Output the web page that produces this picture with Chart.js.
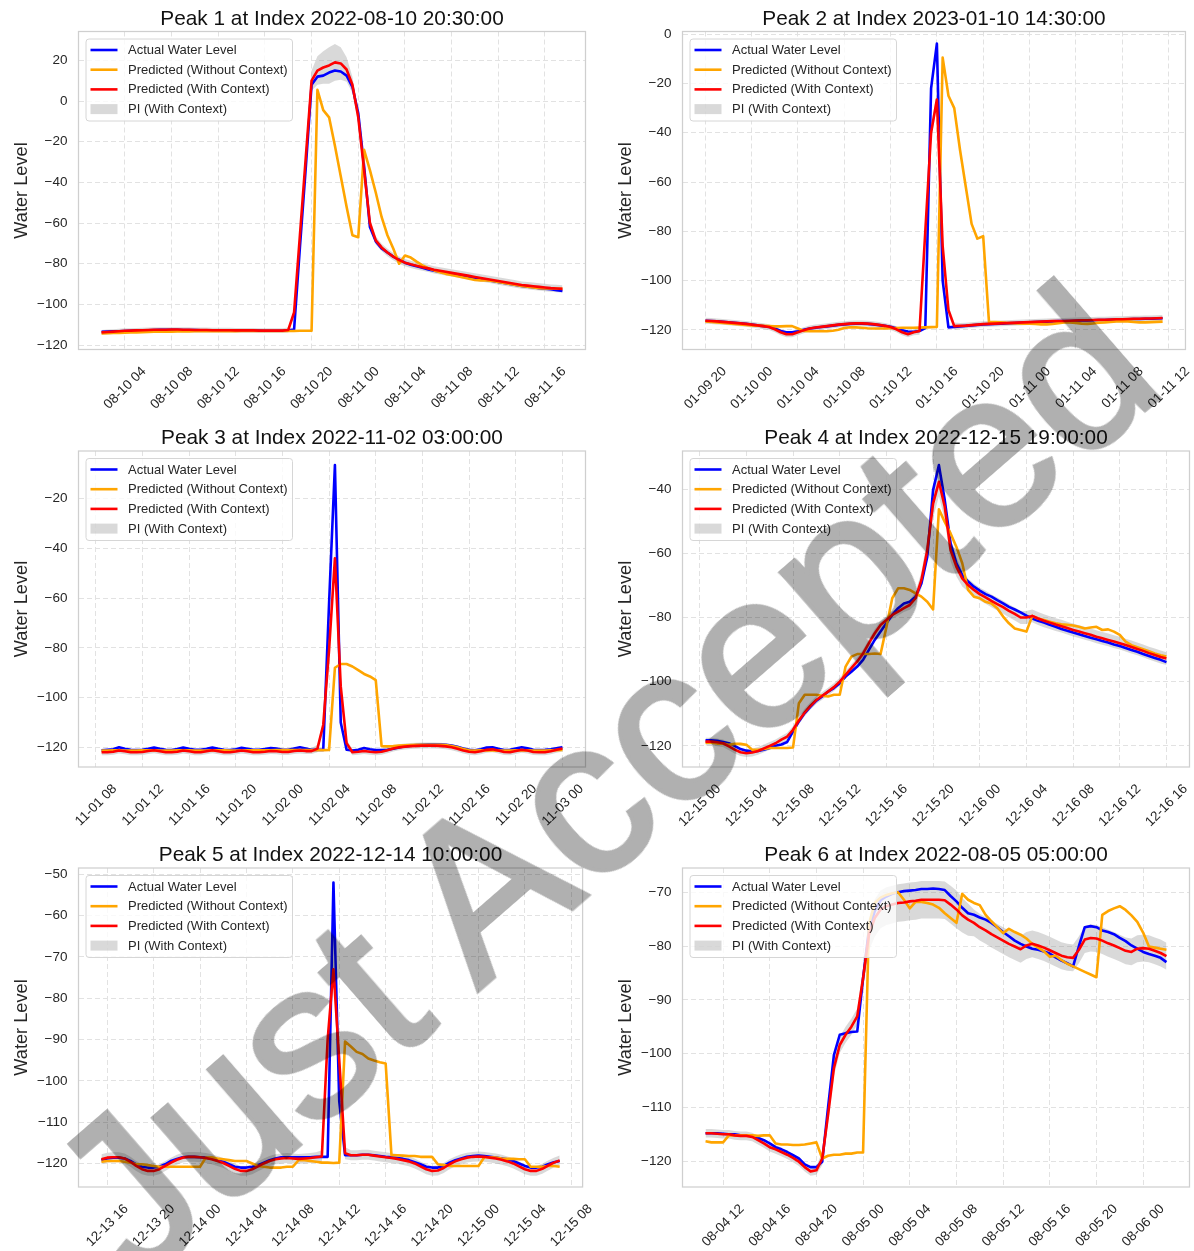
<!DOCTYPE html>
<html>
<head>
<meta charset="utf-8">
<script src="https://cdn.jsdelivr.net/npm/chart.js@4.4.0/dist/chart.umd.min.js"></script>
<style>
html,body{margin:0;padding:0;background:#fff;}
#page{position:relative;width:1194px;height:1251px;overflow:hidden;background:#fff;isolation:isolate;}
#wm{position:absolute;left:603px;top:781px;transform:translate(-50%,-50%) rotate(-41deg);
font-family:"Liberation Sans",Arial,sans-serif;font-size:220px;line-height:1;color:#b0b0b0;
-webkit-text-stroke:4px #b0b0b0;mix-blend-mode:multiply;
white-space:nowrap;pointer-events:none;z-index:10;}
</style>
</head>
<body>
<div id="page"><div id="wm">Just Accepted</div></div>
<script>
// ---------------- DATA ----------------
const STEP_HOURS = 0.5;
const SERIES_LABELS = ['Actual Water Level','Predicted (Without Context)','Predicted (With Context)','PI (With Context)'];
const Y_LABEL = 'Water Level';

// Panel 1
const p1Title = 'Peak 1 at Index 2022-08-10 20:30:00';
const p1Start = '2022-08-10T02:00';
const p1XLabels = ['08-10 04','08-10 08','08-10 12','08-10 16','08-10 20','08-11 00','08-11 04','08-11 08','08-11 12','08-11 16'];
const p1YTicks = [-120,-100,-80,-60,-40,-20,0,20];
const p1YRange = [-122.2, 34.2];
const p1Actual = [-113.5,-113.4,-113.3,-113.2,-113.1,-113.0,-112.9,-112.8,-112.7,-112.6,
 -112.5,-112.5,-112.5,-112.5,-112.6,-112.6,-112.6,-112.7,-112.7,-112.7,
 -112.8,-112.8,-112.8,-112.8,-112.9,-112.9,-112.9,-112.9,-113.0,-113.0,
 -113.0,-113.0,-112.8,-112.4,-72,-33,8,12,12.5,14,
 15,14.5,12.5,7,-6,-32,-62,-69,-72.5,-74.5,
 -76.5,-78,-79.5,-80.5,-81.3,-82,-82.8,-83.4,-84,-84.5,
 -85,-85.5,-86,-86.5,-87,-87.5,-88,-88.5,-89,-89.5,
 -90,-90.5,-91,-91.3,-91.6,-92,-92.3,-92.6,-93,-93.4];
const p1NoCtx = [-114.3,-114.2,-114.1,-114.0,-113.9,-113.8,-113.8,-113.7,-113.6,-113.5,
 -113.5,-113.4,-113.4,-113.3,-113.3,-113.3,-113.2,-113.2,-113.2,-113.2,
 -113.2,-113.2,-113.2,-113.2,-113.1,-113.1,-113.1,-113.1,-113.1,-113.1,
 -113.1,-113.1,-113.1,-113.1,-113.0,-113.0,-113.0,5.5,-4.5,-8,
 -22,-37,-52,-66,-67,-24,-34,-45,-57,-66,
 -72.5,-80,-76,-77,-79,-80.8,-82.2,-83.3,-84.2,-85,
 -85.6,-86.2,-86.8,-87.4,-88,-88.2,-88.3,-88.5,-89,-89.5,
 -90,-90.5,-91,-91.3,-91.7,-92,-92.2,-92.2,-92.2,-92.3];
const p1WithCtx = [-113.8,-113.6,-113.4,-113.2,-113.0,-112.9,-112.8,-112.7,-112.6,-112.5,
 -112.5,-112.5,-112.4,-112.4,-112.5,-112.5,-112.6,-112.6,-112.6,-112.7,
 -112.7,-112.7,-112.7,-112.8,-112.8,-112.8,-112.8,-112.9,-112.9,-112.9,
 -112.9,-112.9,-112.6,-104,-66,-28,10,15,16.5,17.5,
 19,18.5,15.5,8,-8,-34,-60,-68.5,-72,-74.5,
 -76.5,-78.2,-79.5,-80.3,-81,-81.7,-82.3,-83,-83.5,-84,
 -84.5,-85,-85.5,-86,-86.5,-87,-87.5,-88,-88.5,-89,
 -89.5,-90,-90.5,-90.8,-91.1,-91.4,-91.7,-92,-92.2,-92.4];
const p1PiHalf = [1.2,1.2,1.2,1.2,1.2,1.2,1.2,1.2,1.2,1.2,
 1.2,1.2,1.2,1.2,1.2,1.2,1.2,1.2,1.2,1.2,
 1.2,1.2,1.2,1.2,1.2,1.2,1.2,1.2,1.2,1.2,
 1.2,1.2,1.2,1.5,2,3,5,7,8,9,
 9,8,6,4,3,2.5,2,2,1.8,1.8,
 1.8,1.8,1.8,1.8,1.8,1.8,1.8,1.8,1.8,1.8,
 1.8,1.8,1.8,1.8,1.8,1.8,1.8,1.8,1.8,1.8,
 1.8,1.8,1.8,1.8,1.8,1.8,1.8,1.8,1.8,1.8];

// Panel 2
const p2Title = 'Peak 2 at Index 2023-01-10 14:30:00';
const p2Start = '2023-01-09T20:00';
const p2XLabels = ['01-09 20','01-10 00','01-10 04','01-10 08','01-10 12','01-10 16','01-10 20','01-11 00','01-11 04','01-11 08','01-11 12'];
const p2YTicks = [-120,-100,-80,-60,-40,-20,0];
const p2YRange = [-128, 1.1];
const p2Actual = [-116.3,-116.4,-116.6,-116.8,-117.0,-117.2,-117.4,-117.6,-117.9,-118.2,
 -118.5,-118.8,-119.5,-120.5,-121.0,-121.0,-120.6,-120.0,-119.5,-119.2,
 -118.9,-118.6,-118.3,-118.0,-117.8,-117.6,-117.5,-117.5,-117.6,-117.8,
 -118.1,-118.4,-118.8,-119.4,-120.2,-120.7,-120.8,-120.5,-119.3,-22,
 -3.8,-100,-119,-118.8,-118.6,-118.4,-118.2,-118.0,-117.8,-117.7,
 -117.6,-117.5,-117.4,-117.3,-117.2,-117.1,-117.0,-116.9,-116.8,-116.7,
 -116.6,-116.5,-116.5,-116.4,-116.3,-116.2,-116.2,-116.1,-116.0,-116.0,
 -115.9,-115.8,-115.8,-115.7,-115.6,-115.6,-115.5,-115.5,-115.4,-115.3];
const p2NoCtx = [-116.6,-116.8,-117.0,-117.2,-117.4,-117.6,-117.8,-118.0,-118.2,-118.3,
 -118.4,-118.5,-118.6,-118.6,-118.5,-118.5,-119.5,-120.5,-120.6,-120.6,
 -120.6,-120.6,-120.4,-120.0,-119.3,-119.0,-119.0,-119.2,-119.4,-119.5,
 -119.5,-119.5,-119.4,-119.3,-119.2,-119.2,-119.2,-119.1,-119.0,-118.9,
 -118.8,-9.5,-25,-30,-47,-62,-77,-83,-82,-116.8,
 -116.9,-117.0,-117.2,-117.3,-117.4,-117.5,-117.5,-117.6,-117.8,-117.8,
 -117.6,-117.3,-117.0,-117.0,-117.2,-117.5,-117.6,-117.4,-117.1,-117.0,
 -116.8,-116.6,-116.5,-116.6,-116.8,-117.0,-117.0,-116.9,-116.8,-116.7];
const p2WithCtx = [-116.3,-116.4,-116.6,-116.8,-117.0,-117.2,-117.4,-117.6,-117.9,-118.2,
 -118.5,-118.9,-119.8,-121.0,-121.8,-121.8,-121.0,-120.2,-119.5,-119.1,
 -118.8,-118.5,-118.2,-117.9,-117.7,-117.5,-117.4,-117.4,-117.5,-117.7,
 -118.0,-118.4,-118.9,-119.8,-121.0,-121.8,-121.0,-120.5,-80,-40,
 -26.5,-86,-112,-118.5,-118.4,-118.3,-118.1,-117.9,-117.7,-117.6,
 -117.5,-117.4,-117.3,-117.2,-117.1,-117.0,-116.9,-116.8,-116.7,-116.6,
 -116.5,-116.4,-116.4,-116.3,-116.2,-116.1,-116.1,-116.0,-115.9,-115.9,
 -115.8,-115.7,-115.7,-115.6,-115.5,-115.5,-115.4,-115.4,-115.3,-115.2];
const p2PiHalf = [1.2,1.2,1.2,1.2,1.2,1.2,1.2,1.2,1.2,1.2,
 1.2,1.2,1.2,1.2,1.2,1.2,1.2,1.2,1.2,1.2,
 1.2,1.2,1.2,1.2,1.2,1.2,1.2,1.2,1.2,1.2,
 1.2,1.2,1.2,1.2,1.2,1.2,1.2,1.5,2,3,
 3,3,2,1.5,1.2,1.2,1.2,1.2,1.2,1.2,
 1.2,1.2,1.2,1.2,1.2,1.2,1.2,1.2,1.2,1.2,
 1.2,1.2,1.2,1.2,1.2,1.2,1.2,1.2,1.2,1.2,
 1.2,1.2,1.2,1.2,1.2,1.2,1.2,1.2,1.2,1.2];

// Panel 3
const p3Title = 'Peak 3 at Index 2022-11-02 03:00:00';
const p3Start = '2022-11-01T08:30';
const p3XLabels = ['11-01 08','11-01 12','11-01 16','11-01 20','11-02 00','11-02 04','11-02 08','11-02 12','11-02 16','11-02 20','11-03 00'];
const p3YTicks = [-120,-100,-80,-60,-40,-20];
const p3YRange = [-127.9, -0.9];
const p3Actual = [-121.2,-121.0,-120.8,-120.0,-120.6,-121.0,-121.1,-121.0,-120.6,-120.1,
 -120.6,-121.0,-121.1,-120.7,-120.1,-120.6,-121.0,-121.0,-120.6,-120.1,
 -120.6,-121.0,-121.1,-120.8,-120.2,-120.6,-121.0,-121.0,-120.7,-120.3,
 -120.5,-121.0,-121.0,-120.5,-120.0,-120.5,-121.0,-121.0,-121.0,-62,
 -6.5,-110,-121.0,-121.3,-121.0,-120.3,-120.8,-121.1,-121.1,-121.0,
 -120.6,-120.1,-119.6,-119.3,-119.1,-119.0,-118.9,-118.9,-118.9,-119.0,
 -119.3,-119.8,-120.5,-121.0,-121.2,-120.8,-120.1,-120.0,-120.6,-121.1,
 -121.0,-120.5,-120.0,-120.4,-121.0,-121.1,-121.0,-120.8,-120.4,-120.0];
const p3NoCtx = [-121.3,-121.3,-121.2,-121.2,-121.3,-121.3,-121.3,-121.2,-121.2,-121.2,
 -121.3,-121.3,-121.3,-121.2,-121.2,-121.2,-121.3,-121.3,-121.3,-121.2,
 -121.2,-121.2,-121.3,-121.3,-121.3,-121.2,-121.2,-121.2,-121.2,-121.2,
 -121.1,-121.1,-121.1,-121.1,-121.1,-121.1,-121.1,-121.1,-121.1,-121.0,
 -88,-86.5,-86.5,-87.5,-89,-90.5,-91.5,-93,-119.5,-119.6,
 -119.5,-119.3,-119.2,-119.1,-119.0,-119.0,-119.0,-119.0,-119.0,-119.1,
 -119.5,-120.0,-120.7,-121.2,-121.3,-121.2,-121.2,-121.2,-121.3,-121.3,
 -121.3,-121.2,-121.2,-121.2,-121.3,-121.3,-121.3,-121.2,-121.1,-121.0];
const p3WithCtx = [-122.0,-122.0,-121.8,-121.3,-121.6,-122.0,-122.0,-121.9,-121.5,-121.2,
 -121.6,-122.0,-122.0,-121.8,-121.3,-121.6,-122.0,-122.0,-121.6,-121.2,
 -121.6,-122.0,-122.0,-121.7,-121.3,-121.6,-122.0,-122.0,-121.8,-121.5,
 -121.6,-121.9,-121.9,-121.5,-121.3,-121.5,-121.5,-120.5,-111,-80.8,
 -44,-95.5,-118.3,-122.0,-121.8,-121.5,-121.8,-122.0,-121.8,-121.2,
 -120.5,-120.0,-119.7,-119.5,-119.4,-119.3,-119.3,-119.3,-119.4,-119.6,
 -120.0,-120.6,-121.3,-121.8,-122.0,-121.6,-121.0,-120.8,-121.3,-121.9,
 -122.0,-121.5,-121.0,-121.3,-121.9,-122.0,-122.0,-121.6,-121.0,-120.5];
const p3PiHalf = [1.2,1.2,1.2,1.2,1.2,1.2,1.2,1.2,1.2,1.2,
 1.2,1.2,1.2,1.2,1.2,1.2,1.2,1.2,1.2,1.2,
 1.2,1.2,1.2,1.2,1.2,1.2,1.2,1.2,1.2,1.2,
 1.2,1.2,1.2,1.2,1.2,1.2,1.2,1.5,2,3,
 3,2,1.5,1.2,1.2,1.2,1.2,1.2,1.2,1.2,
 1.2,1.2,1.2,1.2,1.2,1.2,1.2,1.2,1.2,1.2,
 1.2,1.2,1.2,1.2,1.2,1.2,1.2,1.2,1.2,1.2,
 1.2,1.2,1.2,1.2,1.2,1.2,1.2,1.2,1.2,1.2];

// Panel 4
const p4Title = 'Peak 4 at Index 2022-12-15 19:00:00';
const p4Start = '2022-12-15T00:30';
const p4XLabels = ['12-15 00','12-15 04','12-15 08','12-15 12','12-15 16','12-15 20','12-16 00','12-16 04','12-16 08','12-16 12','12-16 16'];
const p4YTicks = [-120,-100,-80,-60,-40];
const p4YRange = [-126.6, -28.1];
const p4Actual = [-118.3,-118.3,-118.4,-118.8,-119.2,-120.0,-121.0,-121.5,-121.8,-121.6,
 -121.2,-120.7,-120.0,-119.6,-118.8,-115.5,-112.4,-109.8,-107.8,-105.9,
 -104.6,-103.1,-102.0,-100.5,-98.4,-96.9,-95.3,-93.2,-90.1,-87.0,
 -84.4,-81.8,-79.2,-77.1,-75.6,-75.1,-73.5,-69.4,-61.1,-40.3,
 -32.5,-43.4,-56.9,-63.1,-66.8,-68.8,-70.4,-71.6,-72.7,-73.5,
 -74.6,-75.6,-76.7,-77.5,-78.4,-79.4,-80.3,-81.0,-81.6,-82.3,
 -82.9,-83.6,-84.1,-84.7,-85.2,-85.8,-86.3,-86.8,-87.3,-87.8,
 -88.4,-88.9,-89.5,-90.1,-90.7,-91.4,-92.0,-92.6,-93.2,-93.9];
const p4NoCtx = [-119.0,-119.0,-119.3,-119.3,-119.7,-119.4,-119.4,-119.7,-121.2,-121.2,
 -121.0,-120.7,-120.7,-120.7,-120.7,-120.5,-106.7,-104.1,-104.1,-104.1,
 -104.4,-104.6,-104.1,-104.1,-95.3,-92.2,-91.4,-91.4,-91.4,-91.2,
 -91.4,-83.0,-74.0,-70.9,-70.9,-71.4,-72.5,-73.5,-75.1,-77.5,
 -46.3,-50.2,-53.8,-58.0,-63.1,-71.4,-73.5,-74.0,-75.1,-75.6,
 -77.1,-79.7,-81.8,-83.4,-83.9,-84.4,-79.5,-80.3,-80.8,-81.3,
 -81.8,-82.1,-82.3,-82.5,-82.9,-83.4,-83.1,-82.9,-83.9,-83.7,
 -84.4,-85.4,-87.5,-88.6,-89.3,-89.9,-90.5,-91.2,-91.8,-92.2];
const p4WithCtx = [-118.7,-118.7,-118.9,-119.2,-120.2,-121.2,-122.0,-122.3,-122.1,-121.6,
 -120.8,-120.0,-119.2,-118.1,-117.1,-115.0,-112.1,-109.6,-107.5,-105.7,
 -104.4,-103.1,-101.7,-100.0,-97.9,-95.8,-93.7,-91.2,-88.0,-84.9,
 -82.3,-80.8,-79.2,-78.2,-77.1,-76.1,-74.0,-68.3,-59.0,-44.5,
 -37.7,-45.5,-59.0,-64.2,-67.8,-69.9,-71.4,-72.7,-73.7,-74.8,
 -75.8,-76.8,-77.9,-78.9,-80.0,-80.0,-79.5,-80.3,-81.0,-81.6,
 -82.2,-82.7,-83.3,-83.9,-84.4,-84.9,-85.4,-86.0,-86.5,-87.0,
 -87.5,-88.0,-88.6,-89.2,-89.8,-90.4,-91.1,-91.7,-92.3,-92.8];
const p4PiHalf = [1.2,1.2,1.2,1.2,1.2,1.2,1.2,1.2,1.2,1.2,
 1.2,1.2,1.2,1.2,1.2,1.2,1.2,1.2,1.2,1.2,
 1.2,1.2,1.2,1.2,1.2,1.2,1.2,1.2,1.2,1.2,
 1.2,1.2,1.2,1.2,1.2,1.5,2,2.5,3.5,4.5,
 4.5,4,3.5,3,2.5,2,2,2,2,2,
 2,2,2,2,2,2,2,2,2,2,
 2,2,2,2,2,2,2,2,2,2,
 2,2,2,2,2,2,2,2,2,2];

// Panel 5
const p5Title = 'Peak 5 at Index 2022-12-14 10:00:00';
const p5Start = '2022-12-13T15:30';
const p5XLabels = ['12-13 16','12-13 20','12-14 00','12-14 04','12-14 08','12-14 12','12-14 16','12-14 20','12-15 00','12-15 04','12-15 08'];
const p5YTicks = [-120,-110,-100,-90,-80,-70,-60,-50];
const p5YRange = [-125.7, -48.5];
const p5Actual = [-119.2,-118.8,-118.6,-118.6,-118.8,-119.4,-120.2,-120.8,-121.0,-121.0,
 -120.8,-120.2,-119.4,-118.9,-118.5,-118.4,-118.4,-118.5,-118.6,-118.8,
 -119.2,-119.6,-120.2,-120.8,-121.0,-121.0,-120.8,-120.4,-119.8,-119.2,
 -118.8,-118.5,-118.5,-118.5,-118.5,-118.5,-118.5,-118.4,-118.4,-118.4,
 -52,-105,-118,-118,-118,-117.9,-117.9,-118,-118.2,-118.4,
 -118.5,-118.7,-118.9,-119.2,-119.7,-120.2,-120.8,-121.0,-121.0,-120.6,
 -119.8,-119.2,-118.8,-118.4,-118.2,-118.1,-118.2,-118.4,-118.6,-118.8,
 -119.0,-119.4,-120.0,-120.6,-121.0,-121.0,-120.8,-120.2,-119.7,-119.4];
const p5NoCtx = [-119.6,-119.4,-119.4,-119.4,-119.6,-119.8,-120.2,-120.2,-120.4,-120.6,
 -120.8,-120.8,-120.8,-120.8,-120.8,-120.8,-120.8,-120.8,-118.6,-118.5,
 -118.8,-119.0,-119.2,-119.4,-119.4,-119.4,-120.0,-120.6,-120.8,-121.0,
 -121.0,-121.0,-120.8,-120.8,-119.2,-119.2,-119.4,-119.6,-119.8,-119.8,
 -119.9,-119.8,-90.5,-91.7,-93.0,-93.5,-94.6,-95.1,-95.5,-95.8,
 -118.0,-118.0,-118.1,-118.2,-118.2,-118.4,-118.4,-118.4,-120.2,-120.4,
 -120.6,-120.6,-120.6,-120.6,-120.6,-120.6,-118.5,-118.5,-118.6,-118.8,
 -118.9,-118.9,-119.0,-119.0,-120.8,-120.8,-120.8,-120.6,-120.6,-120.8];
const p5WithCtx = [-119.0,-118.6,-118.5,-118.5,-118.8,-119.6,-120.6,-121.4,-121.8,-121.8,
 -121.4,-120.6,-119.8,-119.1,-118.6,-118.4,-118.4,-118.5,-118.7,-119.0,
 -119.4,-119.9,-120.6,-121.3,-121.8,-121.8,-121.4,-120.7,-120.0,-119.4,
 -119.0,-118.8,-118.7,-118.8,-118.9,-118.8,-118.7,-118.5,-118.3,-90,
 -73,-95,-117.5,-118,-118,-117.9,-117.9,-118.1,-118.3,-118.5,
 -118.7,-118.9,-119.2,-119.5,-120.0,-120.7,-121.4,-121.8,-121.7,-121.1,
 -120.2,-119.5,-119.0,-118.6,-118.4,-118.3,-118.4,-118.6,-118.8,-119.1,
 -119.5,-120.0,-120.7,-121.4,-121.8,-121.8,-121.3,-120.5,-119.8,-119.3];
const p5PiHalf = [1.2,1.2,1.2,1.2,1.2,1.2,1.2,1.2,1.2,1.2,
 1.2,1.2,1.2,1.2,1.2,1.2,1.2,1.2,1.2,1.2,
 1.2,1.2,1.2,1.2,1.2,1.2,1.2,1.2,1.2,1.2,
 1.2,1.2,1.2,1.2,1.2,1.2,1.2,1.2,1.5,2,
 3,2,1.5,1.2,1.2,1.2,1.2,1.2,1.2,1.2,
 1.2,1.2,1.2,1.2,1.2,1.2,1.2,1.2,1.2,1.2,
 1.2,1.2,1.2,1.2,1.2,1.2,1.2,1.2,1.2,1.2,
 1.2,1.2,1.2,1.2,1.2,1.2,1.2,1.2,1.2,1.2];

// Panel 6
const p6Title = 'Peak 6 at Index 2022-08-05 05:00:00';
const p6Start = '2022-08-04T10:30';
const p6XLabels = ['08-04 12','08-04 16','08-04 20','08-05 00','08-05 04','08-05 08','08-05 12','08-05 16','08-05 20','08-06 00'];
const p6YTicks = [-120,-110,-100,-90,-80,-70];
const p6YRange = [-124.8, -65.5];
const p6Actual = [-114.8,-114.8,-114.8,-114.9,-115.0,-115.0,-115.2,-115.2,-115.3,-115.7,
 -116.1,-116.7,-117.4,-117.8,-118.3,-118.9,-119.5,-120.6,-121.1,-121.1,
 -120.1,-110.0,-100.3,-96.5,-96.2,-96.0,-95.9,-86.0,-77.0,-73.5,
 -71.5,-70.8,-70.3,-70.0,-69.8,-69.7,-69.6,-69.4,-69.4,-69.3,
 -69.4,-69.6,-70.7,-71.7,-72.9,-73.9,-74.2,-74.7,-75.1,-75.7,
 -76.5,-77.4,-78.2,-79.0,-79.6,-80.1,-80.5,-80.7,-81.0,-81.4,
 -82.1,-82.7,-83.2,-83.8,-80.0,-76.5,-76.3,-76.5,-77.1,-77.4,
 -77.8,-78.5,-79.1,-79.9,-80.5,-81.1,-81.5,-81.8,-82.2,-83.0];
const p6NoCtx = [-116.3,-116.5,-116.5,-116.5,-115.2,-115.2,-115.2,-115.2,-115.2,-115.3,
 -115.2,-115.2,-116.7,-116.9,-116.9,-117.0,-117.0,-116.9,-116.7,-116.5,
 -119.5,-119.0,-118.8,-118.8,-118.6,-118.6,-118.4,-118.4,-76.0,-72.0,
 -71.0,-70.5,-70.2,-70.0,-71.4,-73.0,-71.8,-71.8,-72.0,-72.3,
 -72.9,-73.9,-74.8,-75.7,-70.3,-71.4,-72.0,-72.4,-74.2,-75.4,
 -76.5,-77.6,-76.8,-77.4,-77.9,-78.6,-79.6,-80.3,-81.0,-82.0,
 -81.8,-82.6,-83.3,-83.8,-84.3,-84.8,-85.3,-85.8,-74.2,-73.5,
 -73.0,-72.6,-73.3,-74.3,-75.5,-77.5,-80.1,-80.3,-80.5,-80.7];
const p6WithCtx = [-114.8,-114.8,-114.9,-115.0,-115.0,-115.2,-115.3,-115.3,-115.5,-116.1,
 -116.7,-117.4,-117.8,-118.3,-118.8,-119.4,-120.1,-121.1,-121.9,-121.7,
 -119.5,-111.4,-102.7,-98.4,-96.5,-95.0,-93.1,-86.0,-77.9,-74.8,
 -73.2,-72.6,-72.3,-72.0,-71.9,-71.7,-71.6,-71.4,-71.4,-71.4,
 -71.4,-71.5,-72.3,-73.2,-74.3,-75.1,-75.7,-76.5,-77.1,-77.8,
 -78.4,-79.0,-79.6,-80.1,-80.6,-79.9,-79.6,-79.9,-80.3,-80.8,
 -81.3,-81.8,-82.1,-82.2,-80.7,-78.8,-78.5,-78.6,-79.0,-79.5,
 -79.9,-80.4,-80.9,-81.1,-80.5,-80.4,-80.5,-80.9,-81.3,-81.9];
const p6PiHalf = [0.8,0.8,0.8,0.8,0.8,0.8,0.8,0.8,0.8,0.8,
 0.8,0.8,0.8,0.8,0.8,0.8,0.8,0.8,0.8,0.8,
 1.2,1.5,1.5,1.5,1.5,1.5,1.5,2,3,3.5,
 3.5,3.5,3.5,3.5,3.5,3.5,3.5,3.5,3.5,3.5,
 3.5,3.5,3.5,3.5,3.2,3,2.5,2.5,2.5,2.5,
 2.5,2.5,2.5,2.5,2.5,2.5,2.5,2.5,2.5,2.5,
 2.5,2.5,2.5,2.5,2.5,2.5,2.5,2.5,2.5,2.5,
 2.5,2.5,2.5,2.5,2.5,2.5,2.5,2.5,2.5,2.5];

// ---------------- STYLE / LAYOUT ----------------
const FONT = '"Liberation Sans", Arial, Helvetica, sans-serif';
const C_ACTUAL = '#0000ff', C_NOCTX = '#ffa500', C_WITHCTX = '#ff0000', C_PI = 'rgba(128,128,128,0.3)';
const LINE_W = 2.6;
const GRID_COLOR = '#e2e2e2';
const TICK_COLOR = '#262626';

const PANELS = [
  {title:p1Title, start:p1Start, xLabels:p1XLabels, yTicks:p1YTicks, yRange:p1YRange, actual:p1Actual, noCtx:p1NoCtx, withCtx:p1WithCtx, piHalf:p1PiHalf},
  {title:p2Title, start:p2Start, xLabels:p2XLabels, yTicks:p2YTicks, yRange:p2YRange, actual:p2Actual, noCtx:p2NoCtx, withCtx:p2WithCtx, piHalf:p2PiHalf},
  {title:p3Title, start:p3Start, xLabels:p3XLabels, yTicks:p3YTicks, yRange:p3YRange, actual:p3Actual, noCtx:p3NoCtx, withCtx:p3WithCtx, piHalf:p3PiHalf},
  {title:p4Title, start:p4Start, xLabels:p4XLabels, yTicks:p4YTicks, yRange:p4YRange, actual:p4Actual, noCtx:p4NoCtx, withCtx:p4WithCtx, piHalf:p4PiHalf},
  {title:p5Title, start:p5Start, xLabels:p5XLabels, yTicks:p5YTicks, yRange:p5YRange, actual:p5Actual, noCtx:p5NoCtx, withCtx:p5WithCtx, piHalf:p5PiHalf},
  {title:p6Title, start:p6Start, xLabels:p6XLabels, yTicks:p6YTicks, yRange:p6YRange, actual:p6Actual, noCtx:p6NoCtx, withCtx:p6WithCtx, piHalf:p6PiHalf}
];
// canvas box [x,y,w,h] and plot area [left,top,right,bottom] in page pixels
const BOXES = [
  {canvas:[0,0,597,418],    area:[78.5,31.5,585.5,349.5]},
  {canvas:[597,0,597,418],  area:[682.5,31.5,1189.5,349.5]},
  {canvas:[0,418,597,418],  area:[78.5,451,585.5,767]},
  {canvas:[597,418,597,418],area:[682.5,451,1189.5,767]},
  {canvas:[0,836,597,415],  area:[78.5,868,585.5,1187]},
  {canvas:[597,836,597,415],area:[682.5,868,1189.5,1187]}
];

function hoursFromStart(startIso, label) {
  const [d, h] = label.split(' ');
  const [mm, dd] = d.split('-').map(Number);
  const s = new Date(startIso + ':00Z');
  const t = Date.UTC(s.getUTCFullYear(), mm - 1, dd, Number(h));
  return (t - s.getTime()) / 3600000;
}
function fmtNum(v) { return v < 0 ? '\u2212' + Math.abs(v) : String(v); }

function makeDecor(P) {
  return {
    id: 'decor',
    afterDatasetsDraw(chart) {
      const a = chart.chartArea, ctx = chart.ctx;
      ctx.save();
      ctx.strokeStyle = '#cfcfcf'; ctx.lineWidth = 1.25;
      ctx.strokeRect(a.left, a.top, a.right - a.left, a.bottom - a.top);
      ctx.restore();
    },
    afterDraw(chart) {
      const a = chart.chartArea, ctx = chart.ctx;
      ctx.save();
      // title
      ctx.fillStyle = '#111';
      ctx.font = '20.8px ' + FONT;
      ctx.textAlign = 'center'; ctx.textBaseline = 'alphabetic';
      ctx.fillText(P.title, (a.left + a.right) / 2, a.top - 7);
      // y label
      ctx.save();
      ctx.translate(a.left - 52, (a.top + a.bottom) / 2);
      ctx.rotate(-Math.PI / 2);
      ctx.fillStyle = TICK_COLOR;
      ctx.font = '18.2px ' + FONT;
      ctx.textAlign = 'center'; ctx.textBaseline = 'alphabetic';
      ctx.fillText(Y_LABEL, 0, 0);
      ctx.restore();
      // legend
      const bx = a.left + 7.5, by = a.top + 7.5, bw = 206.5, bh = 82, r = 3;
      ctx.beginPath();
      ctx.moveTo(bx + r, by); ctx.lineTo(bx + bw - r, by); ctx.arcTo(bx + bw, by, bx + bw, by + r, r);
      ctx.lineTo(bx + bw, by + bh - r); ctx.arcTo(bx + bw, by + bh, bx + bw - r, by + bh, r);
      ctx.lineTo(bx + r, by + bh); ctx.arcTo(bx, by + bh, bx, by + bh - r, r);
      ctx.lineTo(bx, by + r); ctx.arcTo(bx, by, bx + r, by, r); ctx.closePath();
      ctx.fillStyle = 'rgba(255,255,255,0.8)'; ctx.fill();
      ctx.strokeStyle = '#d6d6d6'; ctx.lineWidth = 1; ctx.stroke();
      const colors = [C_ACTUAL, C_NOCTX, C_WITHCTX];
      ctx.font = '13px ' + FONT; ctx.textAlign = 'left'; ctx.textBaseline = 'middle';
      for (let i = 0; i < 4; i++) {
        const cy = by + 11 + i * 19.7;
        if (i < 3) {
          ctx.strokeStyle = colors[i]; ctx.lineWidth = LINE_W; ctx.lineCap = 'butt';
          ctx.beginPath(); ctx.moveTo(bx + 4.5, cy); ctx.lineTo(bx + 31.5, cy); ctx.stroke();
        } else {
          ctx.fillStyle = C_PI; ctx.fillRect(bx + 4.5, cy - 5, 27, 10);
        }
        ctx.fillStyle = TICK_COLOR;
        ctx.fillText(SERIES_LABELS[i], bx + 42, cy + 0.5);
      }
      ctx.restore();
    }
  };
}

function build(idx) {
  const P = PANELS[idx], G = BOXES[idx];
  const [cx, cy, cw, ch] = G.canvas;
  const [L, T, R, B] = G.area;
  const wrap = document.createElement('div');
  wrap.style.cssText = `position:absolute;left:${cx}px;top:${cy}px;width:${cw}px;height:${ch}px;`;
  const cv = document.createElement('canvas');
  cv.width = cw; cv.height = ch; cv.style.width = cw + 'px'; cv.style.height = ch + 'px';
  wrap.appendChild(cv);
  document.getElementById('page').insertBefore(wrap, document.getElementById('wm'));

  const n = P.actual.length;
  const xs = P.actual.map((_, i) => i * STEP_HOURS);
  const span = xs[n - 1] - xs[0];
  const xMin = xs[0] - 0.05 * span, xMax = xs[n - 1] + 0.05 * span;
  const tickHours = P.xLabels.map(l => hoursFromStart(P.start, l));
  const pts = arr => arr.map((v, i) => ({x: xs[i], y: v}));
  const lower = P.withCtx.map((v, i) => v - P.piHalf[i]);
  const upper = P.withCtx.map((v, i) => v + P.piHalf[i]);
  const lineDs = (label, data, color, order) => ({label, data: pts(data), borderColor: color, backgroundColor: color,
    borderWidth: LINE_W, pointRadius: 0, fill: false, tension: 0, order, borderJoinStyle: 'round'});

  new Chart(cv, {
    type: 'line',
    data: { datasets: [
      {label: 'PI lower', data: pts(lower), borderWidth: 0, pointRadius: 0, fill: false, order: 6, borderColor: 'rgba(0,0,0,0)'},
      {label: SERIES_LABELS[3], data: pts(upper), borderWidth: 0, pointRadius: 0, fill: '-1', backgroundColor: C_PI, borderColor: 'rgba(0,0,0,0)', order: 5},
      lineDs(SERIES_LABELS[0], P.actual, C_ACTUAL, 3),
      lineDs(SERIES_LABELS[1], P.noCtx, C_NOCTX, 2),
      lineDs(SERIES_LABELS[2], P.withCtx, C_WITHCTX, 1)
    ]},
    options: {
      responsive: false, animation: false, devicePixelRatio: 1,
      events: [],
      layout: { autoPadding: false, padding: {top: T - cy, right: cx + cw - R, bottom: 0, left: 0} },
      plugins: { legend: {display: false}, title: {display: false}, tooltip: {enabled: false} },
      scales: {
        x: {
          type: 'linear', min: xMin, max: xMax,
          afterBuildTicks: s => { s.ticks = tickHours.map(v => ({value: v})); },
          afterFit: s => { s.height = cy + ch - B; },
          ticks: { autoSkip: false, minRotation: 45, maxRotation: 45, labelOffset: 19, padding: 14,
                   color: TICK_COLOR, font: {family: FONT, size: 13.5},
                   callback: (v, i) => P.xLabels[i] },
          grid: { color: GRID_COLOR, lineWidth: 1, drawTicks: false },
          border: { display: false, dash: [5, 3] }
        },
        y: {
          type: 'linear', min: P.yRange[0], max: P.yRange[1],
          afterBuildTicks: s => { s.ticks = P.yTicks.map(v => ({value: v})); },
          afterFit: s => { s.width = L - cx; },
          ticks: { padding: 11, color: TICK_COLOR, font: {family: FONT, size: 13.5}, callback: v => fmtNum(v) },
          grid: { color: GRID_COLOR, lineWidth: 1, drawTicks: false },
          border: { display: false, dash: [5, 3] }
        }
      }
    },
    plugins: [makeDecor(P)]
  });
}
for (let i = 0; i < PANELS.length; i++) build(i);
</script>
</body>
</html>
